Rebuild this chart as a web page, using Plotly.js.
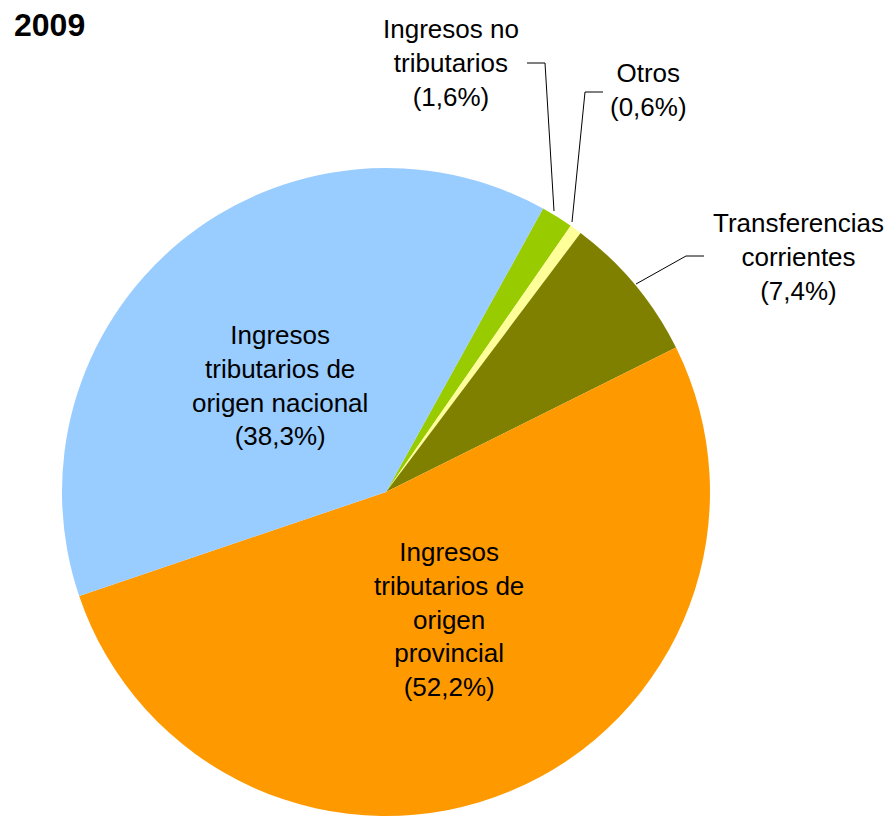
<!DOCTYPE html>
<html>
<head>
<meta charset="utf-8">
<script src="https://cdn.plot.ly/plotly-3.0.1.min.js"></script>
<style>html,body{margin:0;padding:0;background:#fff;}#chart{width:893px;height:816px;}</style>
</head>
<body>
<div id="chart"></div>
<script>
// ---- data ----
const categories = [
  "Ingresos no tributarios",
  "Otros",
  "Transferencias corrientes",
  "Ingresos tributarios de origen provincial",
  "Ingresos tributarios de origen nacional"
];
const shares = [1.6, 0.6, 7.4, 52.2, 38.3];
const shareLabels = ["1,6%", "0,6%", "7,4%", "52,2%", "38,3%"];
const labelLines = [
  ["Ingresos no", "tributarios"],
  ["Otros"],
  ["Transferencias", "corrientes"],
  ["Ingresos", "tributarios de", "origen", "provincial"],
  ["Ingresos", "tributarios de", "origen nacional"]
];
const chartTitle = "2009";

// ---- styles / positions ----
const colors = ["#99CC00", "#FFFF99", "#808000", "#FF9900", "#99CCFF"];
const W = 893, H = 816;
const px = x => x / W;
const py = y => (H - y) / H;
// label centres (pixels)
const labelPos = [[451, 63], [648, 90], [798, 257], [449, 619], [280, 385]];
// leader lines (pixel polylines)
const leaders = [
  [[527, 63], [545, 63], [554, 211]],
  [[603, 92], [585, 92], [572, 222]],
  [[704, 256], [686, 256], [636, 284]],
  null,
  null
];

const annotations = categories.map((c, i) => ({
  xref: "paper", yref: "paper",
  x: px(labelPos[i][0]), y: py(labelPos[i][1]),
  xanchor: "center", yanchor: "middle",
  showarrow: false,
  align: "center",
  text: labelLines[i].join("<br>") + "<br>(" + shareLabels[i] + ")",
  font: {family: "Liberation Sans, Arial, sans-serif", size: 26, color: "#000"}
}));
annotations.push({
  xref: "paper", yref: "paper", x: px(12), y: py(25),
  xanchor: "left", yanchor: "middle", showarrow: false,
  text: "<b>" + chartTitle + "</b>",
  font: {family: "Liberation Sans, Arial, sans-serif", size: 32, color: "#000"}
});

const shapes = [];
leaders.forEach(l => {
  if (!l) return;
  const path = l.map((p, k) => (k ? "L" : "M") + px(p[0]) + "," + py(p[1])).join(" ");
  shapes.push({type: "path", xref: "paper", yref: "paper", path: path,
    line: {color: "#000", width: 1}});
});

const trace = {
  type: "pie",
  labels: categories,
  values: shares,
  sort: false,
  direction: "clockwise",
  rotation: 29,
  textinfo: "none",
  hoverinfo: "label+percent",
  marker: {colors: colors, line: {width: 0}},
  domain: {x: [px(61), px(711)], y: [0, py(168)]},
  showlegend: false
};

Plotly.newPlot("chart", [trace], {
  width: W, height: H,
  margin: {l: 0, r: 0, t: 0, b: 0},
  paper_bgcolor: "#fff",
  showlegend: false,
  annotations: annotations,
  shapes: shapes
}, {displayModeBar: false, staticPlot: true});
</script>
</body>
</html>
